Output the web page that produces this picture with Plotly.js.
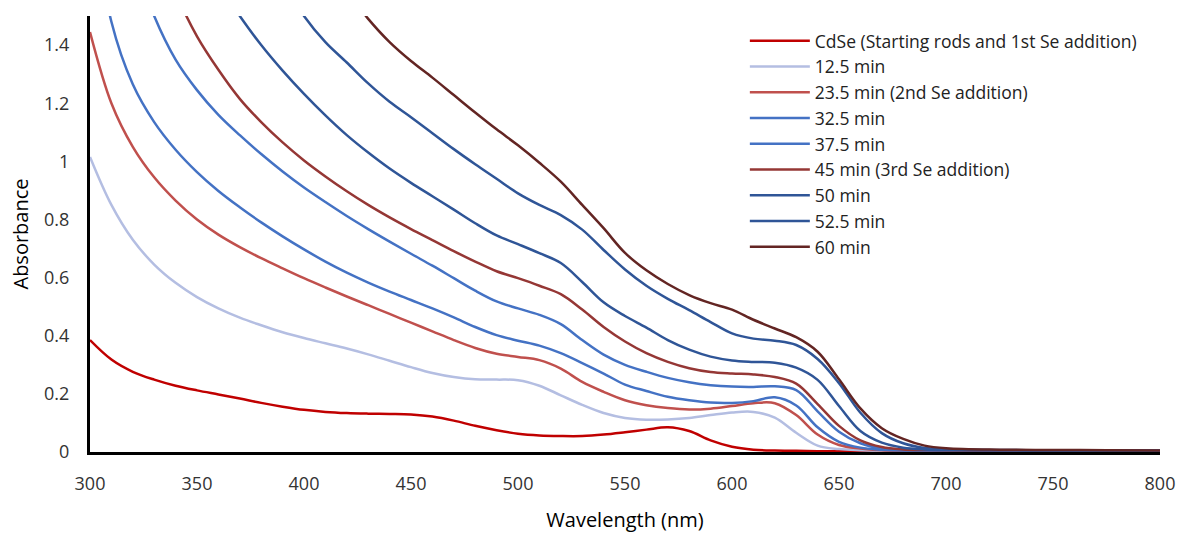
<!DOCTYPE html>
<html>
<head>
<meta charset="utf-8">
<script src="https://cdn.plot.ly/plotly-3.0.1.min.js"></script>
<style>
  html, body { margin: 0; padding: 0; background: #ffffff; }
  #chart { width: 1191px; height: 533px; }
</style>
</head>
<body>
<div id="chart"></div>
<script>
// Wavelength grid (nm)
const wavelength = [300,310,320,330,340,350,360,370,380,390,400,410,420,430,440,450,460,470,480,490,500,510,520,530,540,550,560,570,580,590,600,610,620,630,640,650,660,670,680,690,700,725,750,775,800];

// Series names
const seriesNames = [
  "CdSe (Starting rods and 1st Se addition)",
  "12.5 min",
  "23.5 min (2nd Se addition)",
  "32.5 min",
  "37.5 min",
  "45 min (3rd Se addition)",
  "50 min",
  "52.5 min",
  "60 min"
];

// Absorbance values
const cdse  = [0.385,0.318,0.276,0.249,0.228,0.212,0.198,0.184,0.169,0.156,0.145,0.138,0.134,0.132,0.131,0.129,0.122,0.108,0.09,0.075,0.063,0.057,0.055,0.055,0.06,0.068,0.077,0.085,0.072,0.04,0.018,0.008,0.005,0.004,0.003,0.003,0.003,0.003,0.003,0.003,0.003,0.003,0.002,0.002,0.002];
const t12_5 = [1.015,0.85,0.73,0.645,0.582,0.533,0.494,0.462,0.436,0.412,0.392,0.374,0.356,0.336,0.314,0.292,0.272,0.258,0.25,0.249,0.247,0.228,0.195,0.162,0.134,0.117,0.111,0.112,0.117,0.127,0.136,0.138,0.118,0.066,0.022,0.01,0.006,0.004,0.003,0.003,0.003,0.003,0.003,0.003,0.003];
const t23_5 = [1.445,1.2,1.05,0.945,0.865,0.8,0.748,0.705,0.667,0.632,0.598,0.566,0.535,0.505,0.475,0.445,0.415,0.385,0.358,0.338,0.327,0.316,0.287,0.241,0.207,0.178,0.161,0.151,0.146,0.149,0.158,0.168,0.168,0.127,0.06,0.024,0.012,0.006,0.004,0.004,0.004,0.003,0.003,0.003,0.003];
const t32_5 = [1.92,1.48,1.265,1.135,1.04,0.963,0.898,0.842,0.79,0.742,0.697,0.655,0.617,0.583,0.552,0.523,0.494,0.463,0.43,0.402,0.383,0.366,0.34,0.306,0.27,0.232,0.21,0.19,0.178,0.17,0.169,0.175,0.188,0.16,0.085,0.035,0.015,0.008,0.005,0.005,0.005,0.004,0.004,0.004,0.003];
const t37_5 = [2.3,1.98,1.71,1.5,1.35,1.245,1.16,1.09,1.025,0.965,0.91,0.86,0.812,0.767,0.724,0.682,0.641,0.598,0.555,0.518,0.494,0.472,0.44,0.385,0.335,0.3,0.276,0.255,0.24,0.23,0.225,0.224,0.226,0.213,0.14,0.07,0.03,0.012,0.007,0.006,0.005,0.005,0.004,0.004,0.004];
const t45   = [2.6,2.28,2.0,1.77,1.58,1.43,1.315,1.215,1.135,1.065,1.003,0.948,0.897,0.85,0.807,0.767,0.729,0.691,0.655,0.622,0.598,0.572,0.543,0.49,0.43,0.38,0.34,0.31,0.288,0.275,0.27,0.267,0.258,0.235,0.165,0.09,0.04,0.017,0.009,0.007,0.006,0.005,0.005,0.004,0.004];
const t50   = [2.72,2.47,2.25,2.06,1.89,1.74,1.61,1.5,1.4,1.312,1.232,1.158,1.09,1.03,0.975,0.926,0.88,0.834,0.787,0.745,0.715,0.684,0.65,0.585,0.515,0.468,0.428,0.385,0.352,0.328,0.315,0.31,0.307,0.29,0.248,0.158,0.072,0.032,0.015,0.009,0.007,0.006,0.005,0.005,0.004];
const t52_5 = [3.6,3.25,2.95,2.68,2.44,2.23,2.05,1.89,1.75,1.62,1.5,1.41,1.34,1.268,1.205,1.152,1.097,1.042,0.99,0.94,0.89,0.85,0.815,0.765,0.695,0.628,0.572,0.527,0.488,0.447,0.408,0.39,0.383,0.368,0.32,0.237,0.135,0.065,0.03,0.014,0.01,0.007,0.006,0.005,0.005];
const t60   = [3.9,3.55,3.2,2.9,2.62,2.4,2.21,2.05,1.92,1.81,1.71,1.65,1.585,1.49,1.41,1.345,1.288,1.228,1.168,1.11,1.055,0.995,0.93,0.85,0.77,0.685,0.625,0.578,0.54,0.512,0.49,0.455,0.425,0.395,0.345,0.25,0.15,0.082,0.045,0.022,0.013,0.008,0.007,0.006,0.005];

const seriesValues = [cdse, t12_5, t23_5, t32_5, t37_5, t45, t50, t52_5, t60];
const seriesColors = ["#C00000","#B4BEE2","#C0504D","#4472C4","#4472C4","#953735","#2F5597","#2F5597","#632523"];

const traces = seriesValues.map((vals, i) => ({
  x: wavelength,
  y: vals,
  name: seriesNames[i],
  type: "scatter",
  mode: "lines",
  line: { color: seriesColors[i], width: 2.5, shape: "spline", smoothing: 1 },
  hoverinfo: "skip"
}));

const fontFam = "'Open Sans', 'Noto Sans', sans-serif";

const layout = {
  width: 1191,
  height: 533,
  margin: { l: 90, r: 31, t: 16, b: 81 },
  paper_bgcolor: "#ffffff",
  plot_bgcolor: "#ffffff",
  showlegend: true,
  legend: {
    x: 0.612, y: 0.984, xanchor: "left", yanchor: "top",
    font: { family: fontFam, size: 17.5, color: "#222222" },
    bgcolor: "rgba(0,0,0,0)",
    itemwidth: 60,
    tracegroupgap: 0
  },
  xaxis: {
    range: [300, 800],
    tickvals: [300,350,400,450,500,550,600,650,700,750,800],
    showgrid: false,
    zeroline: false,
    showline: true,
    linecolor: "#000000",
    linewidth: 3,
    ticks: "",
    ticklabelstandoff: 13,
    tickfont: { family: fontFam, size: 18, color: "#333333" },
    title: { text: "Wavelength (nm)", font: { family: fontFam, size: 20, color: "#000000" }, standoff: 20 }
  },
  yaxis: {
    range: [0, 1.5],
    tickvals: [0,0.2,0.4,0.6,0.8,1,1.2,1.4],
    showgrid: false,
    zeroline: false,
    showline: true,
    linecolor: "#000000",
    linewidth: 3,
    ticks: "",
    ticklabelstandoff: 14,
    tickfont: { family: fontFam, size: 18, color: "#333333" },
    title: { text: "Absorbance", font: { family: fontFam, size: 20, color: "#000000" }, standoff: 11 }
  }
};

Plotly.newPlot("chart", traces, layout, { displayModeBar: false, staticPlot: true });
</script>
</body>
</html>
